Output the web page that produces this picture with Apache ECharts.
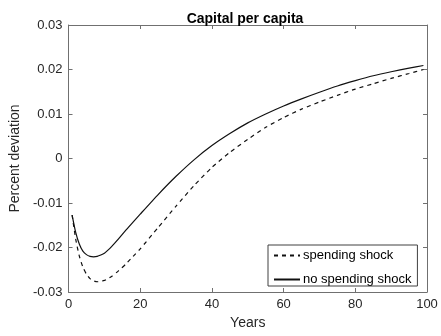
<!DOCTYPE html>
<html>
<head>
<meta charset="utf-8">
<script src="https://cdn.jsdelivr.net/npm/echarts@6/dist/echarts.min.js"></script>
<style>html,body{margin:0;padding:0;background:#fff}#c{width:441px;height:336px}</style>
</head>
<body>
<div id="c"></div>
<script>
var years = [1,2,3,4,5,6,7,8,9,10,11,12,14,16,18,20,25,30,35,40,45,50,55,60,65,70,75,80,85,90,95,99];
var spendingShock = [-0.0127,-0.0181,-0.0219,-0.0244,-0.0260,-0.0270,-0.0275,-0.0277,-0.0276,-0.0274,-0.0270,-0.0265,-0.0252,-0.0237,-0.0220,-0.0203,-0.0155,-0.0107,-0.0061,-0.0020,0.0014,0.0043,0.0070,0.0092,0.0111,0.0127,0.0142,0.0156,0.0168,0.0180,0.0191,0.0200];
var noSpendingShock = [-0.0127,-0.0166,-0.0192,-0.0208,-0.0216,-0.0220,-0.0221,-0.0220,-0.0217,-0.0213,-0.0206,-0.0198,-0.0180,-0.0161,-0.0143,-0.0125,-0.0081,-0.0040,-0.0003,0.0029,0.0056,0.0080,0.0100,0.0118,0.0134,0.0149,0.0163,0.0175,0.0186,0.0195,0.0203,0.0209];
var seriesNames = ['spending shock','no spending shock'];
var titleText = 'Capital per capita';
var xName = 'Years', yName = 'Percent deviation';

function pairs(xs, ys){ return xs.map(function(x,i){ return [x, ys[i]]; }); }
var axisCol = '#707070', textCol = '#262626', font = 'Liberation Sans, Arial, sans-serif';
function baseAxis(extra){
  var a = {
    axisLine:{show:true, onZero:false, lineStyle:{color:axisCol, width:1}},
    axisTick:{show:true, inside:true, length:4, lineStyle:{color:axisCol}},
    splitLine:{show:false},
    axisLabel:{color:textCol, fontSize:13, fontFamily:font}
  };
  for (var k in extra) a[k] = extra[k];
  return a;
}
var chart = echarts.init(document.getElementById('c'), null, {renderer:'canvas'});
chart.setOption({
  animation:false,
  backgroundColor:'#fff',
  title:{text:titleText, left:245, top:12, padding:0, textAlign:'center',
    textStyle:{fontSize:14, fontWeight:'bold', color:'#000', fontFamily:font}},
  grid:{left:63, right:14, top:25, bottom:44},
  legend:{
    orient:'vertical', left:268, top:245, width:149,
    padding:[4,6,0,5], itemGap:11, itemWidth:26, itemHeight:12,
    borderColor:'#404040', borderWidth:1, backgroundColor:'#fff',
    itemStyle:{color:'transparent', borderWidth:0, opacity:0},
    textStyle:{fontSize:13, color:'#000', fontFamily:font, padding:[0,0,0,-2]},
    data:seriesNames
  },
  xAxis:[
    baseAxis({type:'value', min:0, max:100, interval:20, position:'bottom',
      name:xName, nameLocation:'middle', nameGap:23,
      nameTextStyle:{fontSize:14, color:textCol, fontFamily:font},
      axisLabel:{color:textCol, fontSize:13, fontFamily:font, margin:6}}),
    baseAxis({type:'value', min:0, max:100, interval:20, position:'top', axisLabel:{show:false}})
  ],
  yAxis:[
    baseAxis({type:'value', min:-0.03, max:0.03, interval:0.01, position:'left',
      name:yName, nameLocation:'middle', nameGap:41,
      nameTextStyle:{fontSize:14, color:textCol, fontFamily:font},
      axisLabel:{color:textCol, fontSize:13, fontFamily:font, margin:6,
        formatter:function(v){ var r=Math.round(v*100)/100; return r===0?'0':r.toFixed(2); }}}),
    baseAxis({type:'value', min:-0.03, max:0.03, interval:0.01, position:'right', axisLabel:{show:false}})
  ],
  series:[
    {name:seriesNames[0], type:'line', data:pairs(years, spendingShock), symbol:'none', smooth:0.2,
      xAxisIndex:0, yAxisIndex:0,
      lineStyle:{color:'#111', width:1.2, type:[4,4]}, itemStyle:{color:'#111'}},
    {name:seriesNames[1], type:'line', data:pairs(years, noSpendingShock), symbol:'none', smooth:0.2,
      xAxisIndex:0, yAxisIndex:0,
      lineStyle:{color:'#111', width:1.2, type:'solid'}, itemStyle:{color:'#111'}}
  ]
});
</script>
</body>
</html>
